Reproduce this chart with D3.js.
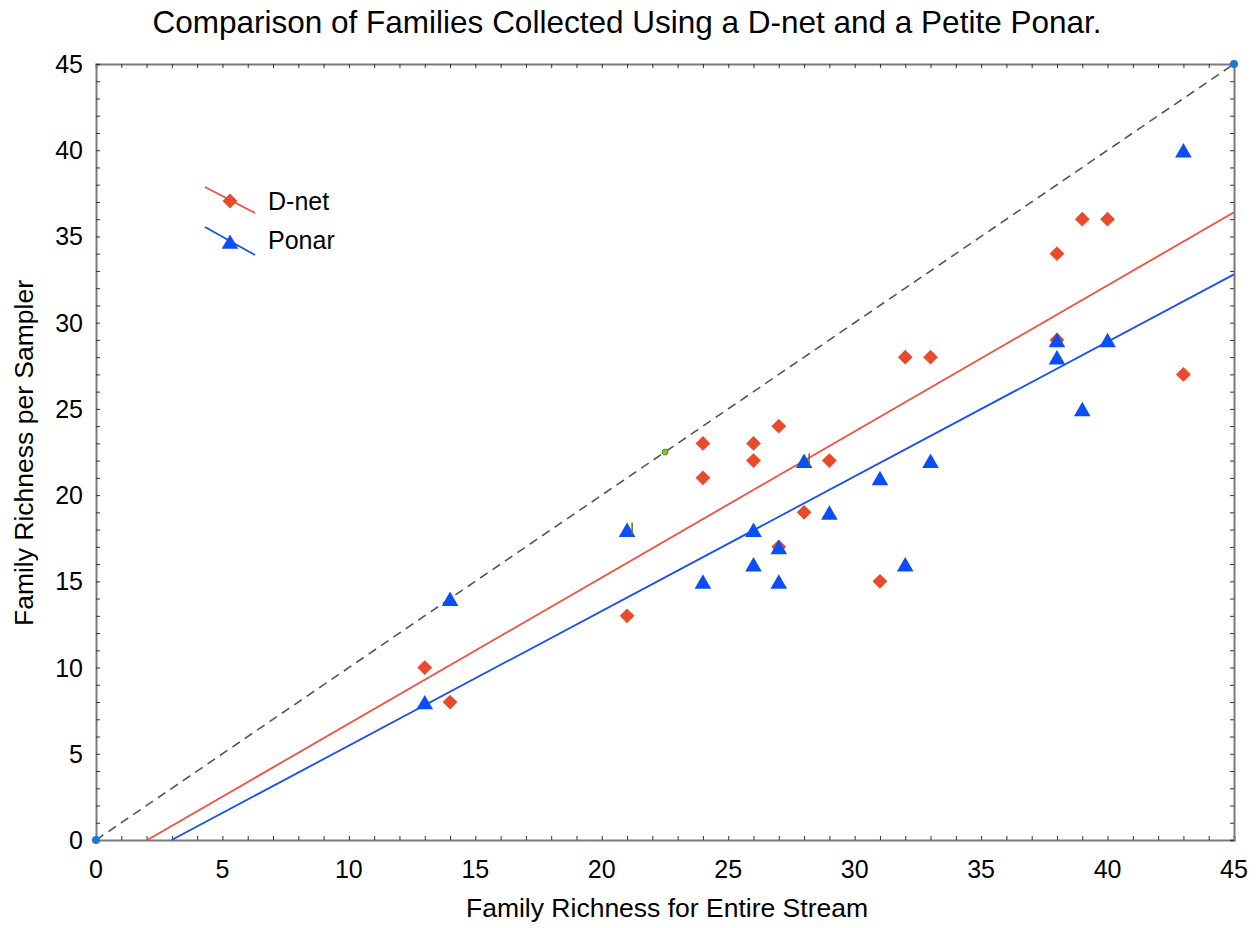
<!DOCTYPE html>
<html><head><meta charset="utf-8">
<script src="https://cdn.jsdelivr.net/npm/d3@7"></script>
<style>body{margin:0;background:#fff;} text{font-family:Arial,"Liberation Sans",sans-serif;}</style>
</head><body><svg id="c" width="1260" height="928"></svg>
<script>
const dnetX = [13,14,21,24,24,26,26,27,27,28,29,31,32,33,38,38,39,40,43];
const dnetY = [10,8,13,23,21,23,22,24,17,19,22,15,28,28,34,29,36,36,27];
const ponarX = [13,14,21,24,26,26,27,27,28,29,31,32,33,38,38,39,40,43];
const ponarY = [8,14,18,15,18,16,17,15,22,19,21,16,22,29,28,25,29,40];
const dnetFit = [[2.03,0],[45,36.4]];
const ponarFit = [[2.99,0],[45,32.8]];
const identity = [[0,0],[45,45]];
const endDots = [[0,0],[45,45]];
const midDot = [[22.5,22.5]];
const flagMarks = [[21.2,18],[28.2,22]];
const xTicks = [0,5,10,15,20,25,30,35,40,45];
const yTicks = [0,5,10,15,20,25,30,35,40,45];
const minorTicks = d3.range(0,46);

const svg = d3.select("#c");
const L=96,R=1234,T=64,B=840;
const x = d3.scaleLinear().domain([0,45]).range([L,R]);
const y = d3.scaleLinear().domain([0,45]).range([B,T]);

svg.append("text").attr("x",627).attr("y",33).attr("text-anchor","middle").attr("font-size",31.5).text("Comparison of Families Collected Using a D-net and a Petite Ponar.");

const axisCol="#7a7a7a";
function frame(a){a.select(".domain").attr("stroke",axisCol).attr("stroke-width",2);a.selectAll("line").attr("stroke","#333");}
svg.append("g").attr("transform",`translate(0,${B})`).call(d3.axisBottom(x).tickValues(minorTicks).tickSize(-4).tickFormat("")).call(frame);
svg.append("g").attr("transform",`translate(0,${T})`).call(d3.axisTop(x).tickValues(minorTicks).tickSize(-4).tickFormat("")).call(frame);
svg.append("g").attr("transform",`translate(${L},0)`).call(d3.axisLeft(y).tickValues(minorTicks).tickSize(-4).tickFormat("")).call(frame);
svg.append("g").attr("transform",`translate(${R},0)`).call(d3.axisRight(y).tickValues(minorTicks).tickSize(-4).tickFormat("")).call(frame);

svg.append("g").selectAll("text").data(xTicks).join("text").attr("x",d=>x(d)).attr("y",B+38).attr("text-anchor","middle").attr("font-size",25).text(d=>d);
svg.append("g").selectAll("text").data(yTicks).join("text").attr("x",L-13).attr("y",d=>y(d)+9).attr("text-anchor","end").attr("font-size",25).text(d=>d);

svg.append("text").attr("x",667).attr("y",917).attr("text-anchor","middle").attr("font-size",26.5).text("Family Richness for Entire Stream");
svg.append("text").attr("transform","translate(33,453) rotate(-90)").attr("text-anchor","middle").attr("font-size",26.5).text("Family Richness per Sampler");

const line = d3.line().x(d=>x(d[0])).y(d=>y(d[1]));
svg.append("path").attr("d",line(identity)).attr("stroke","#555").attr("stroke-width",1.6).attr("stroke-dasharray","9,6").attr("fill","none");
svg.append("path").attr("d",line(dnetFit)).attr("stroke","#f0503c").attr("stroke-width",1.8).attr("fill","none");
svg.append("path").attr("d",line(ponarFit)).attr("stroke","#1a4ff5").attr("stroke-width",1.8).attr("fill","none");

const diamond = d3.symbol().type(d3.symbolDiamond2).size(140);
const tri = d3.symbol().type(d3.symbolTriangle).size(120);
const dCol="#e84a2c", pCol="#0a4ff5";

svg.append("g").selectAll("path").data(dnetX.map((v,i)=>[v,dnetY[i]])).join("path")
  .attr("d",diamond).attr("transform",d=>`translate(${x(d[0])},${y(d[1])})`).attr("fill",dCol);
svg.append("g").selectAll("path").data(ponarX.map((v,i)=>[v,ponarY[i]])).join("path")
  .attr("d",tri).attr("transform",d=>`translate(${x(d[0])},${y(d[1])+2.5})`).attr("fill",pCol);

svg.append("g").selectAll("line").data(flagMarks).join("line")
  .attr("x1",d=>x(d[0])).attr("x2",d=>x(d[0])).attr("y1",d=>y(d[1])-7).attr("y2",d=>y(d[1])+5).attr("stroke","#6b6b10").attr("stroke-width",1.5);

svg.append("g").selectAll("circle").data(endDots).join("circle").attr("cx",d=>x(d[0])).attr("cy",d=>y(d[1])).attr("r",4).attr("fill","#1a78d8");
svg.append("g").selectAll("circle").data(midDot).join("circle").attr("cx",d=>x(d[0])).attr("cy",d=>y(d[1])).attr("r",3).attr("fill","#7ad020").attr("stroke","#4a7a10").attr("stroke-width",0.8);

const lg = svg.append("g");
lg.append("line").attr("x1",205).attr("y1",187).attr("x2",255).attr("y2",213).attr("stroke","#f0503c").attr("stroke-width",1.8);
lg.append("path").attr("d",diamond).attr("transform","translate(230,201)").attr("fill",dCol);
lg.append("text").attr("x",268).attr("y",210).attr("font-size",25).text("D-net");
lg.append("line").attr("x1",205).attr("y1",227).attr("x2",255).attr("y2",255).attr("stroke","#1a4ff5").attr("stroke-width",1.8);
lg.append("path").attr("d",tri).attr("transform","translate(230,244)").attr("fill",pCol);
lg.append("text").attr("x",268).attr("y",249).attr("font-size",25).text("Ponar");
</script></body></html>
